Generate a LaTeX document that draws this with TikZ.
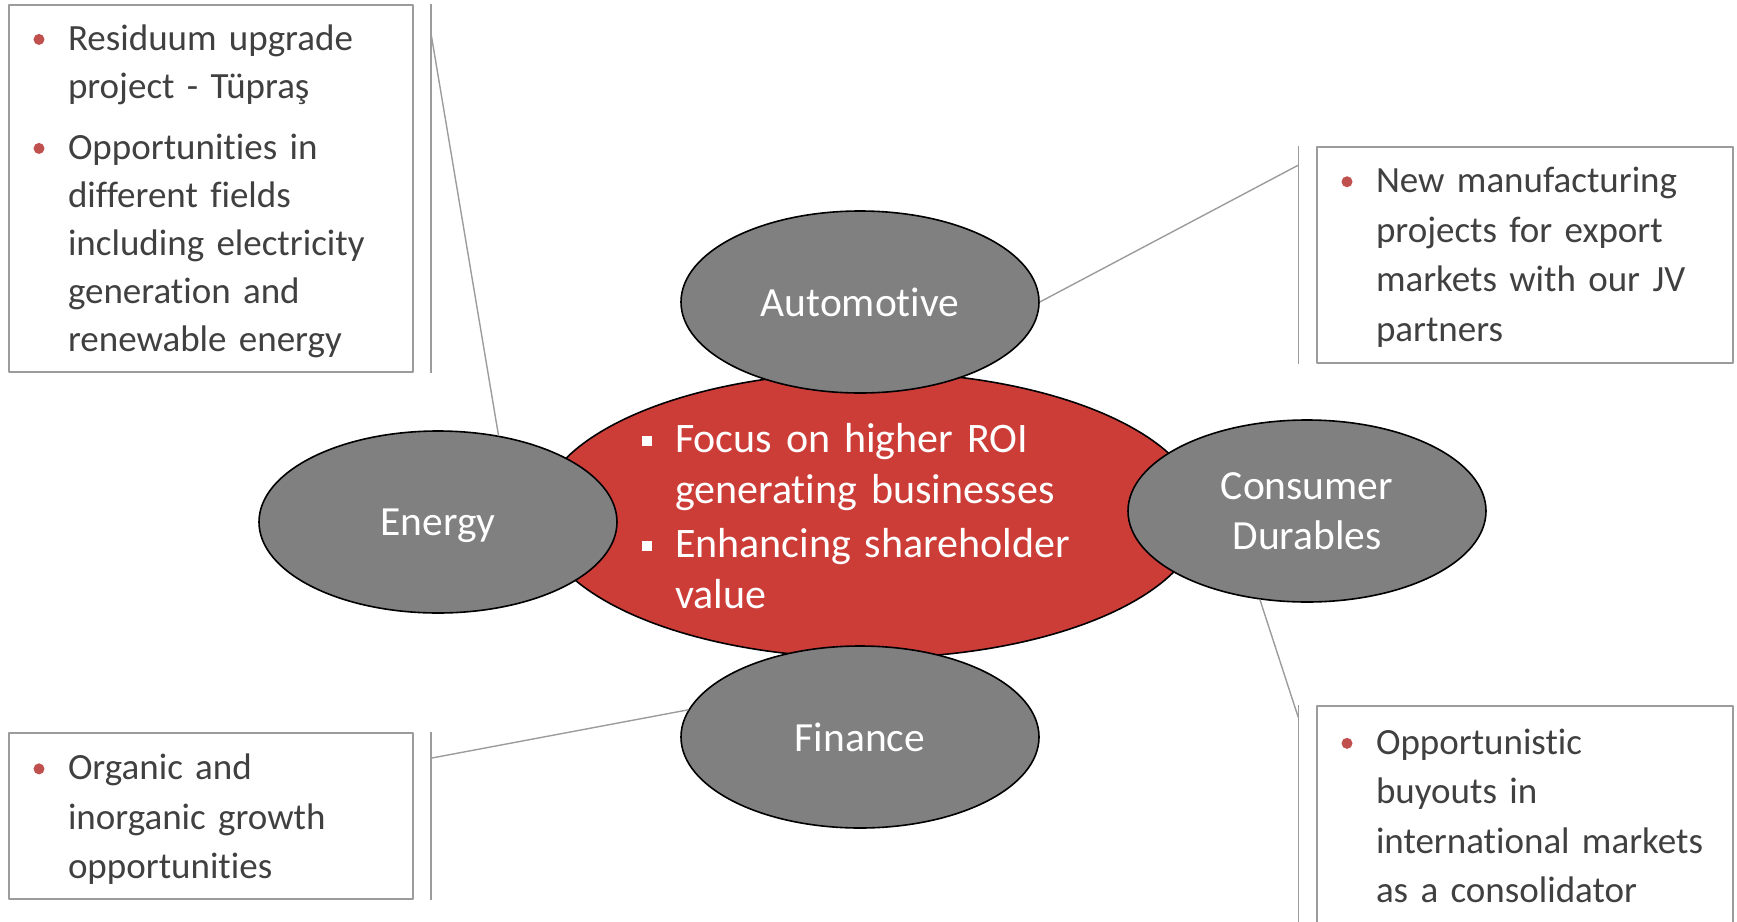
\documentclass[tikz,border=0pt]{standalone}
\usepackage{fontspec}
\setmainfont{Carlito}[Ligatures=NoCommon]
\usetikzlibrary{shapes,positioning}

\definecolor{corered}{HTML}{CD3D38}
\definecolor{seggray}{HTML}{808080}
\definecolor{boxgray}{HTML}{9C9C9C}
\definecolor{textgray}{HTML}{404040}
\definecolor{dotred}{HTML}{C0504D}

\newcommand{\notefont}{\fontsize{37}{49.5}\selectfont}
\newcommand{\densefont}{\fontsize{37}{48}\selectfont}
\newcommand{\segfont}{\fontsize{41.5}{50}\selectfont}
\newcommand{\corefont}{\fontsize{42}{51}\selectfont}
\newcommand{\reddot}{\tikz[baseline=0pt]\fill[dotred] (5.5pt,11pt) circle (5.5pt);}
\newcommand{\bitem}{\noindent\hangindent=59pt\hangafter=1\hbox to 59pt{\hskip24.5pt\reddot\hss}}
\newcommand{\sitem}{\noindent\hangindent=33pt\hangafter=1\hbox to 33pt{\color{white}\rule[6pt]{10pt}{10pt}\hss}}
\newcommand{\bend}[1]{\par\kern-#1pt}

\begin{document}
\begin{tikzpicture}[x=1pt,y=-1pt,line join=round]
\tikzstyle{segment}=[ellipse,draw=black,line width=1.6pt,fill=seggray,text=white,minimum width=358,minimum height=182,inner sep=0pt,text depth=0pt,align=center,font=\segfont]
\tikzstyle{callout}=[rectangle,draw=boxgray,line width=1.6pt,inner sep=0pt,text=textgray,align=left,font=\notefont,execute at begin node={\setlength{\parskip}{13pt}}]
\tikzstyle{leader}=[draw=boxgray,line width=1.4pt]
\useasboundingbox (0,0) rectangle (1737,921);

% core
\path node[ellipse,draw=black,line width=1.6pt,fill=corered,minimum width=662,minimum height=286] (core) at (870,515) {};
\path node[text=white,text width=440,align=left,inner sep=0pt,font=\corefont,execute at begin node={\setlength{\parskip}{3pt}}] (focus) at ([xshift=-8pt,yshift=-1pt]core.center) {\sitem Focus on higher ROI\newline generating businesses\par\sitem Enhancing shareholder\newline value\par};

% segments
\path node[segment] (auto) at (860,302) {Automotive};
\path node[segment] (energy) at (438,522) {Energy};
\path node[segment] (dur) at (1307,511) {Consumer\\Durables};
\path node[segment] (fin) at (860,737) {Finance};

% notes
\path node[callout,font=\densefont,minimum width=404,minimum height=367,text width=404] (energynote) at (211,188.5) {\bitem Residuum upgrade\newline project - Tüpraş\par\bitem Opportunities in\newline different fields\newline including electricity\newline generation and\newline renewable energy\bend{5.5}};
\path node[callout,minimum width=416,minimum height=216,text width=416] (autonote) at (1525,255) {\bitem New manufacturing\newline projects for export\newline markets with our JV\newline partners\bend{4.5}};
\path node[callout,minimum width=404,minimum height=166,text width=404] (finnote) at (211,816) {\bitem Organic and\newline inorganic growth\newline opportunities\bend{7}};
\path node[callout,minimum width=416,minimum height=218,text width=416] (durnote) at (1525,815) {\bitem Opportunistic\newline buyouts in\newline international markets\newline as a consolidator\bend{2}};

% bars
\draw[leader] ([xshift=17pt]energynote.north east) -- ([xshift=17pt]energynote.south east);
\draw[leader] ([xshift=17pt]finnote.north east) -- ([xshift=17pt]finnote.south east);
\draw[leader] ([xshift=-18pt]autonote.north west) -- ([xshift=-18pt]autonote.south west);
\draw[leader] ([xshift=-18pt]durnote.north west) -- ([xshift=-18pt]durnote.south west);

% leaders
\coordinate (energytap) at ([xshift=17pt,yshift=-28pt]energynote.north east);
\coordinate (fintap) at ([xshift=17pt,yshift=-26pt]finnote.north east);
\coordinate (autotap) at ([xshift=-18pt,yshift=-19pt]autonote.north west);
\coordinate (durtap) at ([xshift=-18pt,yshift=-12pt]durnote.north west);
\draw[leader] (energytap) -- (energy.55);
\draw[leader] (autotap) -- (auto.east);
\draw[leader] (fintap) -- (fin.171);
\draw[leader] (durtap) -- (dur.242);
\end{tikzpicture}
\end{document}
